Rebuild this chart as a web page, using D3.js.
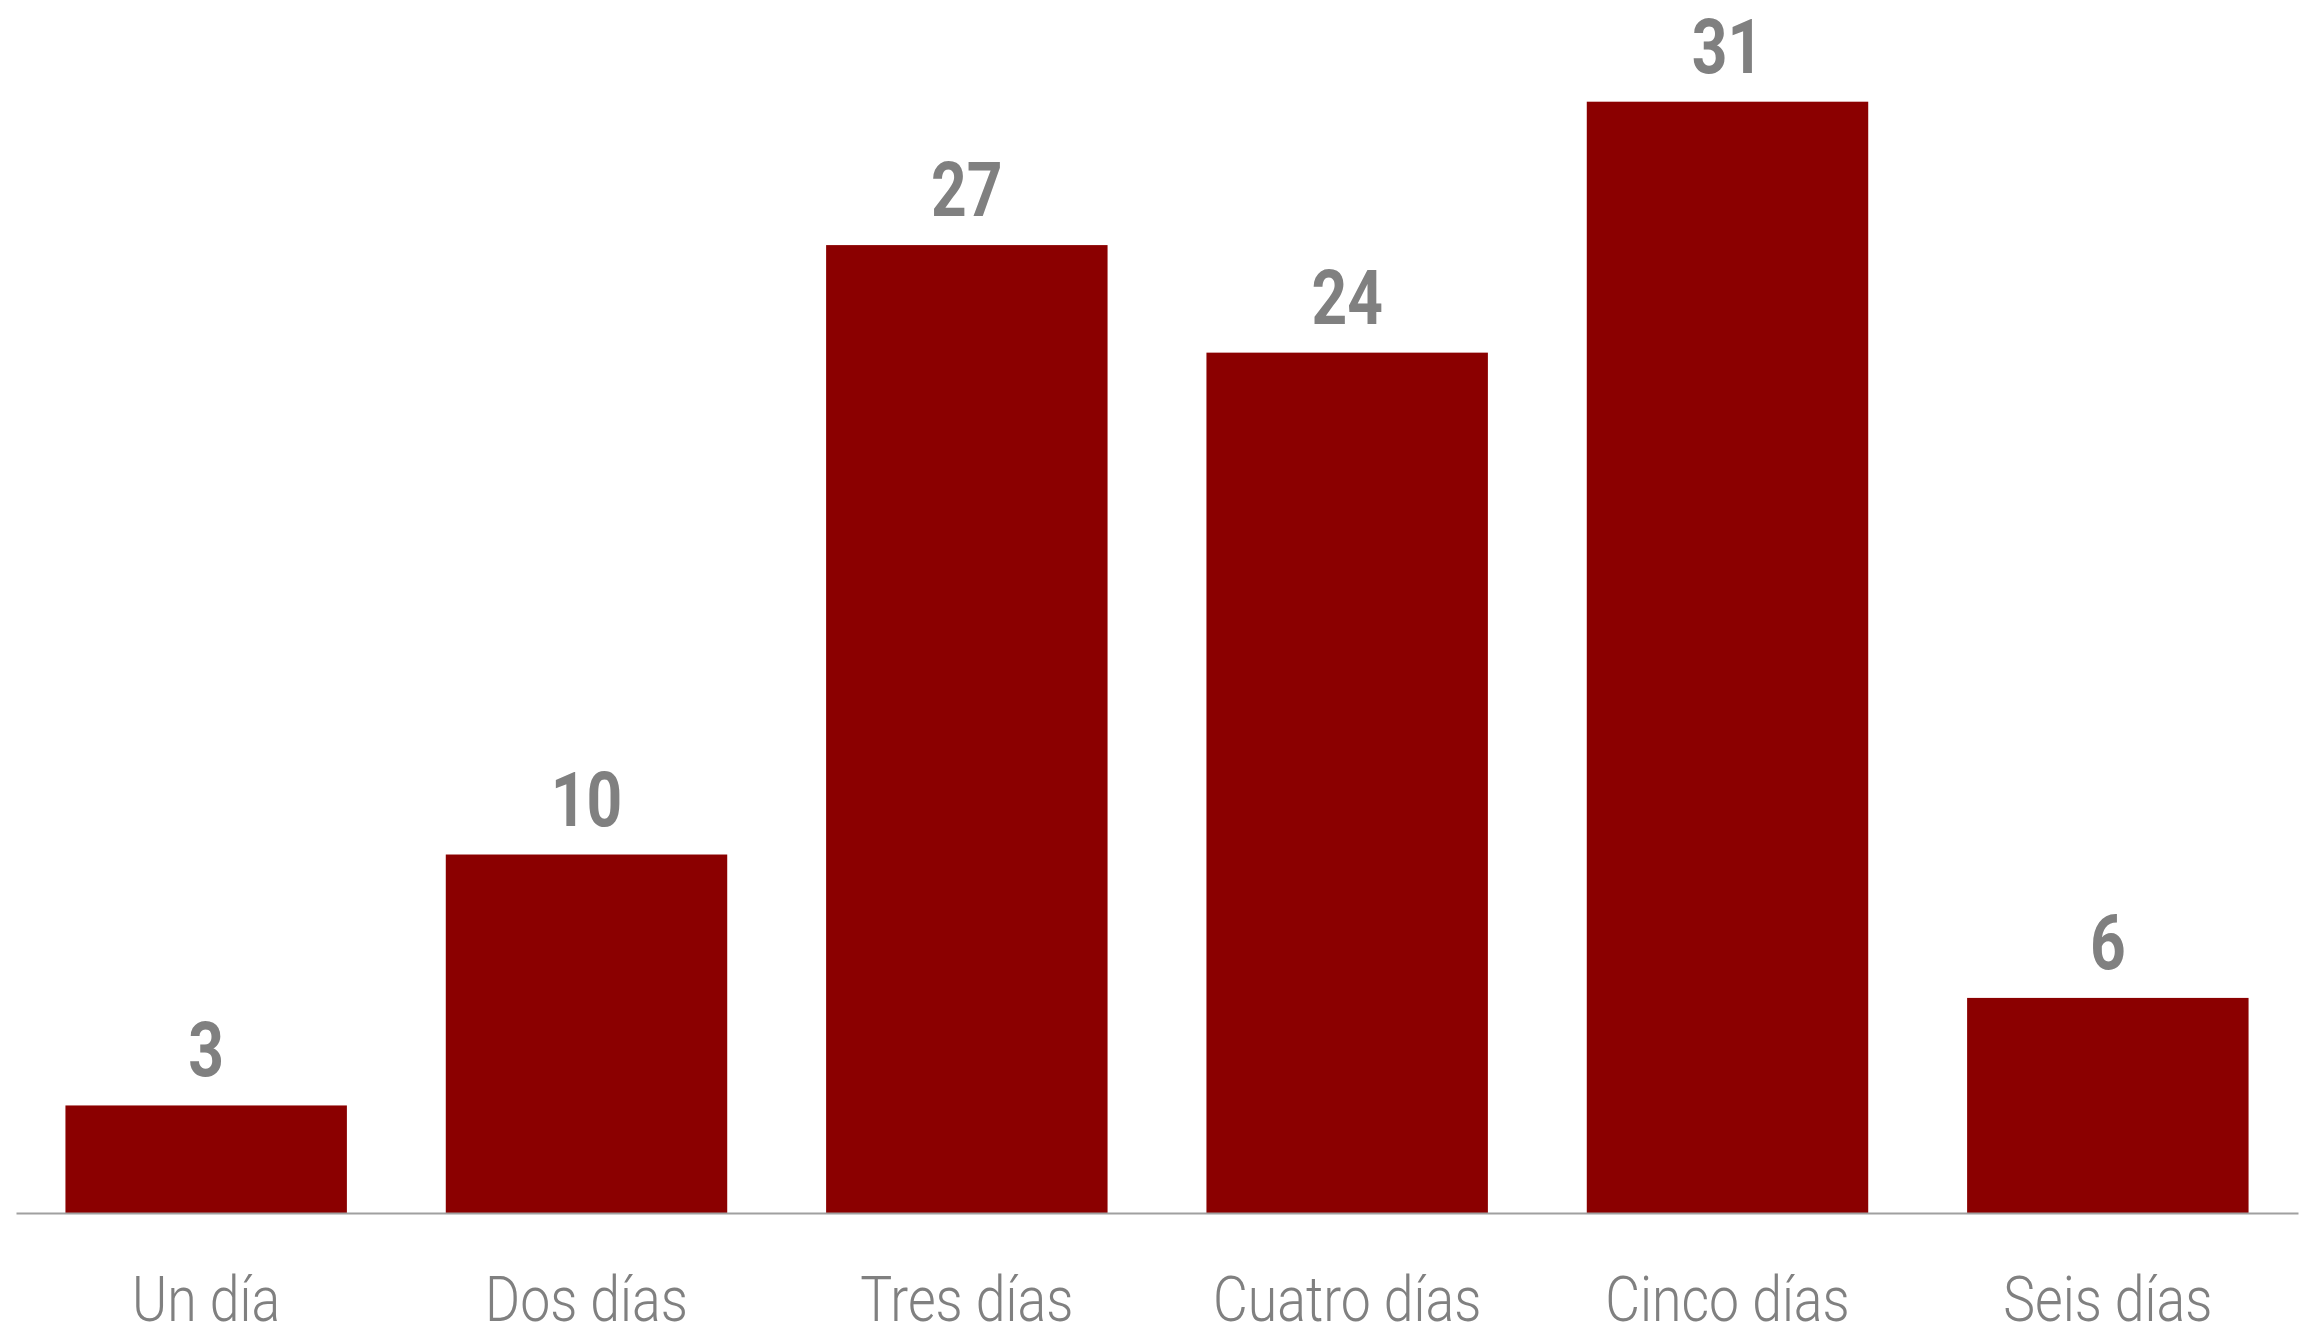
<!DOCTYPE html>
<html>
<head>
<meta charset="utf-8">
<script src="https://cdn.jsdelivr.net/npm/d3@7"></script>
<style>
  html, body { margin: 0; padding: 0; background: #ffffff; }
  svg { display: block; }
</style>
</head>
<body>
<svg id="chart" width="2299" height="1333"></svg>
<script>
// Número de días por categoría
const categories = ["Un día", "Dos días", "Tres días", "Cuatro días", "Cinco días", "Seis días"];
const values = [3, 10, 27, 24, 31, 6];

const W = 2299, H = 1333;
const baseY = 1213;
const topY = 101.7;
const barColor = "#8b0000";
const textColor = "#808080";
const condenseValue = 0.82;  // horizontal squeeze for the value labels
const condenseLabel = 0.85;  // horizontal squeeze for the category labels

const svg = d3.select("#chart");

const x = d3.scaleBand()
  .domain(categories)
  .range([16, 2298])
  .paddingInner(0.26)
  .paddingOuter(0.13);

const y = d3.scaleLinear()
  .domain([0, d3.max(values)])
  .range([baseY, topY]);

const data = categories.map((c, i) => ({ cat: c, val: values[i] }));

// bars
svg.append("g")
  .selectAll("rect")
  .data(data)
  .join("rect")
  .attr("x", d => x(d.cat))
  .attr("y", d => y(d.val))
  .attr("width", x.bandwidth())
  .attr("height", d => y(0) - y(d.val))
  .attr("fill", barColor);

// value labels above bars
svg.append("g")
  .selectAll("text")
  .data(data)
  .join("text")
  .attr("transform", d => `translate(${x(d.cat) + x.bandwidth() / 2},${y(d.val) - 29}) scale(${condenseValue},1)`)
  .attr("text-anchor", "middle")
  .attr("font-family", "Roboto, 'DejaVu Sans', sans-serif")
  .attr("font-weight", 700)
  .attr("font-size", 76)
  .attr("fill", textColor)
  .text(d => d.val);

// category axis
const axis = svg.append("g")
  .attr("transform", `translate(0,${baseY})`)
  .call(d3.axisBottom(x).tickSize(0).tickSizeOuter(0).tickPadding(0));

axis.select(".domain")
  .attr("stroke", "#a0a0a0")
  .attr("stroke-width", 2);

axis.selectAll(".tick text")
  .attr("y", 108)
  .attr("dy", null)
  .attr("transform", `scale(${condenseLabel},1)`)
  .attr("font-family", "Roboto, 'DejaVu Sans', sans-serif")
  .attr("font-weight", 300)
  .attr("font-size", 63)
  .attr("fill", textColor);
</script>
</body>
</html>
